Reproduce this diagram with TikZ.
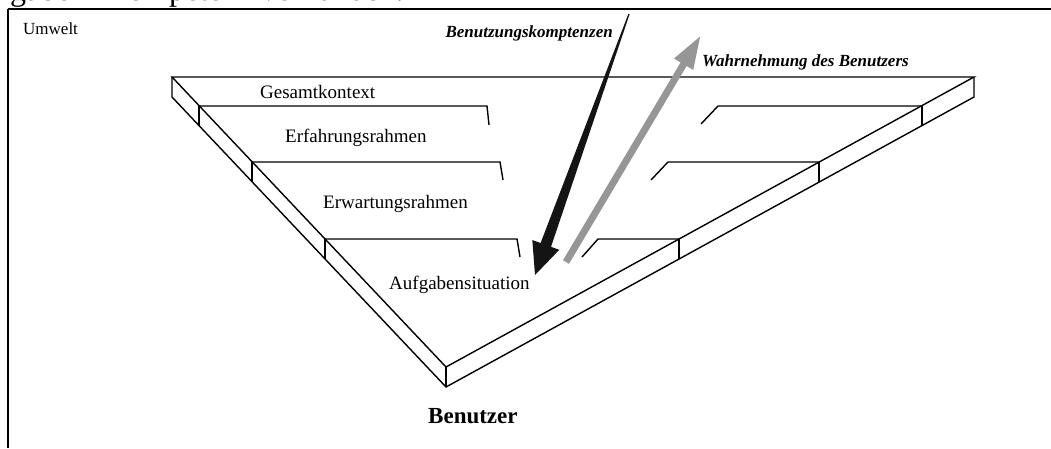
\documentclass[tikz,border=0pt]{standalone}
\usepackage{fontspec}
\setmainfont{Liberation Serif}
\usetikzlibrary{arrows.meta}

\begin{document}
\begin{tikzpicture}[x=1pt, y=-1pt, line join=miter,
  edge/.style={line width=1.4pt},
  frameline/.style={line width=2.2pt},
  label/.style={inner sep=0pt, anchor=base west},
  layertext/.style={label, font=\fontsize{19}{21}\selectfont},
  arrowtext/.style={inner sep=0pt, font=\fontsize{17}{19}\selectfont\bfseries\itshape},
  headtext/.style={label, font=\fontsize{32}{34}\selectfont},
]
\useasboundingbox (0,0) rectangle (1051,448);

% running text of the page above the figure (only its lower part shows)
\begin{scope}
  \clip (0,0) rectangle (1051,448);
  \node[headtext] (head1) at (10,0) {gabe};
  \node[headtext] (head2) at (112,0) {kompetenz vorhanden.};
\end{scope}

% environment frame
\draw[frameline] (8,9) -- (1051,9);
\draw[edge] (8,9) -- (8,448);
\node[label, font=\fontsize{17}{19}\selectfont] (umwelt) at (23,34) {Umwelt};

% slab corners: top face and lower edge of the front faces
\coordinate (A)  at (172,77);
\coordinate (B)  at (974,77);
\coordinate (C)  at (446,367);
\coordinate (A') at (172,97);
\coordinate (B') at (974,97);
\coordinate (C') at (446,387);

% layer boundaries on the left and right side faces
\coordinate (L1) at (199,106); \coordinate (L1') at (199,126);
\coordinate (L2) at (252,162); \coordinate (L2') at (252,182);
\coordinate (L3) at (325,239); \coordinate (L3') at (325,259);
\coordinate (R1) at (922,106); \coordinate (R1') at (922,126);
\coordinate (R2) at (819,162); \coordinate (R2') at (819,182);
\coordinate (R3) at (679,239); \coordinate (R3') at (679,259);

% the triangular slab
\draw[edge] (A) -- (B) -- (C) -- cycle;
\draw[edge] (A) -- (A') -- (C') -- (B') -- (B);
\draw[edge] (C) -- (C');
\foreach \p in {L1,L2,L3,R1,R2,R3} \draw[edge] (\p) -- (\p');

% layer boundaries on the top face
\draw[edge] (L1) -- (487,106) -- (489,125);
\draw[edge] (701,124) -- (718,106) -- (R1);
\draw[edge] (L2) -- (500,162) -- (503,180);
\draw[edge] (651,180) -- (668,162) -- (R2);
\draw[edge] (L3) -- (517,239) -- (520,257);
\draw[edge] (582,257) -- (598,239) -- (R3);

% layer names
\node[layertext] (gesamt)  at (260,98)  {Gesamtkontext};
\node[layertext] (erfahr)  at (285,142) {Erfahrungsrahmen};
\node[layertext] (erwart)  at (323,208) {Erwartungsrahmen};
\node[layertext] (aufgabe) at (389,289) {Aufgabensituation};

% user
\node[label, font=\fontsize{23}{25}\selectfont\bfseries] (benutzer) at (428,423) {Benutzer};

% tapered black arrow: competences flowing down to the task
\coordinate (btop)  at (629,14);
\coordinate (btip)  at (535,275);
\fill[black!92]
  (628.4,13.8) -- (629.6,14.2) -- (551.0,246.8) -- (559.3,249.8)
  -- (btip) -- (532.3,240.0) -- (540.6,243.0) -- cycle;
\node[arrowtext, anchor=base east] (komp) at (613,37) {Benutzungskomptenzen};

% grey arrow: perception rising from the task
\coordinate (gstart) at (566,262);
\coordinate (gtip)   at (701,35);
\draw[line width=7pt, color={rgb,255:red,150;green,150;blue,150},
      -{Triangle[length=34pt,width=20pt]}] (gstart) -- (gtip);
\node[arrowtext, anchor=base west] (wahr) at (702,66) {Wahrnehmung des Benutzers};
\end{tikzpicture}
\end{document}
